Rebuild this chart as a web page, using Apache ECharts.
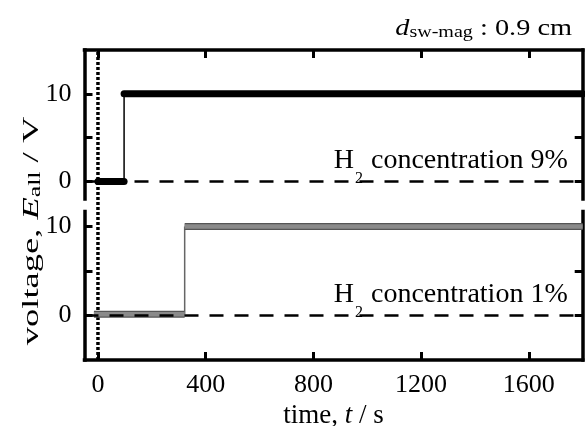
<!DOCTYPE html>
<html><head><meta charset="utf-8">
<script src="https://cdn.jsdelivr.net/npm/echarts@6/dist/echarts.min.js"></script>
<style>html,body{margin:0;padding:0;background:#fff}#c{width:585px;height:426px}</style>
</head><body><div id="c"></div>
<script>
// ---- data ----
const xTicks = [0, 400, 800, 1200, 1600];
const yTicks = [0, 5, 10];
const yLabels = [0, 10];
const time9 = [0, 97, 97, 1800];
const volt9 = [0, 0, 10, 10];
const time1 = [-15, 322, 322, 1800];
const volt1 = [0.15, 0.15, 10, 10];
const concentrations = ['9%', '1%'];
const startTime = [0];

const FONT = 'Liberation Serif';
function seg(t, v, i, j) { return [[t[i], v[i]], [t[j], v[j]]]; }

const frame = { show: true, onZero: false, lineStyle: { color: '#000', width: 3.5, cap: 'square' } };
const tickIn = (vals) => ({ show: true, inside: true, length: 8, lineStyle: { color: '#000', width: 3 }, customValues: vals });
const plain = (v) => String(v);

function xAx(grid, pos, labels) {
  return {
    type: 'value', gridIndex: grid, position: pos, min: -50, max: 1800,
    axisLine: frame, axisTick: tickIn(xTicks), splitLine: { show: false },
    axisLabel: labels ? { show: true, customValues: xTicks, formatter: plain, margin: 12, color: '#000', fontFamily: FONT, fontSize: 26 } : { show: false },
    name: labels ? '{n|time, }{i|t}{n| / s}' : '',
    nameLocation: 'middle', nameGap: 42.5,
    nameTextStyle: { rich: { n: { fontFamily: FONT, fontSize: 27, color: '#000' }, i: { fontFamily: FONT, fontStyle: 'italic', fontSize: 27, color: '#000' } } }
  };
}
function yAx(grid, pos, min, max, labels) {
  return {
    type: 'value', gridIndex: grid, position: pos, min: min, max: max,
    axisLine: frame, axisTick: tickIn(yTicks), splitLine: { show: false },
    axisLabel: labels ? { show: true, customValues: yLabels, formatter: plain, margin: 13, color: '#000', fontFamily: FONT, fontSize: 26 } : { show: false }
  };
}
function concLabel(c) {
  return {
    show: true, position: 'insideEndTop', distance: [15, 3],
    formatter: '{h|H}{s|2}{n| concentration ' + c + '}',
    rich: {
      h: { fontFamily: FONT, fontSize: 28, color: '#000', lineHeight: 32, verticalAlign: 'top' },
      n: { fontFamily: FONT, fontSize: 28, color: '#000', lineHeight: 32, verticalAlign: 'top' },
      s: { fontFamily: FONT, fontSize: 16, color: '#000', lineHeight: 16, verticalAlign: 'top', padding: [24, 1, 0, 1] }
    }
  };
}
function zeroLine(c) {
  return {
    silent: true, symbol: 'none',
    lineStyle: { color: '#000', width: 2.5, type: [14, 11] },
    label: concLabel(c),
    data: [{ yAxis: 0 }]
  };
}
const black = (w) => ({ color: '#000', width: w, cap: 'round' });
const gridBase = { left: 84.5, right: 2.3, outerBoundsMode: 'none', containLabel: false };

const option = {
  animation: false,
  graphic: [{
    type: 'text', x: 30, y: 231, rotation: Math.PI / 2, scaleX: 1.52, scaleY: 1,
    style: {
      text: '{n|voltage, }{i|E}{s|all}{n| / V}', align: 'center', verticalAlign: 'middle',
      rich: {
        n: { fontFamily: FONT, fontSize: 24, fill: '#000', lineHeight: 28, verticalAlign: 'bottom' },
        i: { fontFamily: FONT, fontStyle: 'italic', fontSize: 24, fill: '#000', lineHeight: 28, verticalAlign: 'bottom' },
        s: { fontFamily: FONT, fontSize: 17, fill: '#000', lineHeight: 22, verticalAlign: 'bottom' }
      }
    }
  }, {
    type: 'text', x: 572, y: 26, scaleX: 1.18, scaleY: 1,
    style: {
      text: '{d|d}{s|sw-mag}{n| : 0.9 cm}', align: 'right', verticalAlign: 'middle',
      rich: {
        d: { fontFamily: FONT, fontStyle: 'italic', fontSize: 24, fill: '#000', lineHeight: 30, verticalAlign: 'bottom' },
        n: { fontFamily: FONT, fontSize: 24, fill: '#000', lineHeight: 30, verticalAlign: 'bottom' },
        s: { fontFamily: FONT, fontSize: 17, fill: '#000', lineHeight: 25, verticalAlign: 'bottom' }
      }
    }
  }],
  grid: [
    Object.assign({ top: 50, height: 149 }, gridBase),
    Object.assign({ top: 211.5, height: 148.5 }, gridBase),
    Object.assign({ top: 50, height: 310 }, gridBase)
  ],
  xAxis: [
    xAx(0, 'top', false),
    xAx(1, 'bottom', true),
    { type: 'value', gridIndex: 2, min: -50, max: 1800, show: false }
  ],
  yAxis: [
    yAx(0, 'left', -2, 15, true),
    yAx(0, 'right', -2, 15, false),
    yAx(1, 'left', -5, 11.7, true),
    yAx(1, 'right', -5, 11.7, false),
    { type: 'value', gridIndex: 2, min: 0, max: 1, show: false }
  ],
  series: [
    { type: 'line', xAxisIndex: 2, yAxisIndex: 4, symbol: 'none', z: 1,
      data: [[startTime[0], 0], [startTime[0], 1]],
      lineStyle: { color: '#000', width: 3.5, type: [3, 2] } },
    // 9% panel
    { type: 'line', xAxisIndex: 0, yAxisIndex: 0, symbol: 'none', z: 3, data: seg(time9, volt9, 0, 1), lineStyle: black(7), markLine: zeroLine(concentrations[0]) },
    { type: 'line', xAxisIndex: 0, yAxisIndex: 0, symbol: 'none', z: 3, data: seg(time9, volt9, 1, 2), lineStyle: { color: '#000', width: 1.5 } },
    { type: 'line', xAxisIndex: 0, yAxisIndex: 0, symbol: 'none', z: 3, data: seg(time9, volt9, 2, 3), lineStyle: black(7) },
    // 1% panel
    { type: 'line', xAxisIndex: 1, yAxisIndex: 2, symbol: 'none', z: 2, data: seg(time1, volt1, 0, 1), lineStyle: { color: '#555', width: 7 } },
    { type: 'line', xAxisIndex: 1, yAxisIndex: 2, symbol: 'none', z: 3, data: seg(time1, volt1, 0, 1), lineStyle: { color: '#8a8a8a', width: 4.5 } },
    { type: 'line', xAxisIndex: 1, yAxisIndex: 2, symbol: 'none', z: 2, data: seg(time1, volt1, 1, 2), lineStyle: { color: '#666', width: 1.5 } },
    { type: 'line', xAxisIndex: 1, yAxisIndex: 2, symbol: 'none', z: 2, data: seg(time1, volt1, 2, 3), lineStyle: { color: '#555', width: 7 } },
    { type: 'line', xAxisIndex: 1, yAxisIndex: 2, symbol: 'none', z: 3, data: seg(time1, volt1, 2, 3), lineStyle: { color: '#8a8a8a', width: 4.5 } },
    { type: 'line', xAxisIndex: 1, yAxisIndex: 2, symbol: 'none', z: 5, data: [], markLine: zeroLine(concentrations[1]) }
  ]
};
const chart = echarts.init(document.getElementById('c'), null, { renderer: 'canvas' });
chart.setOption(option);
</script>
</body></html>
